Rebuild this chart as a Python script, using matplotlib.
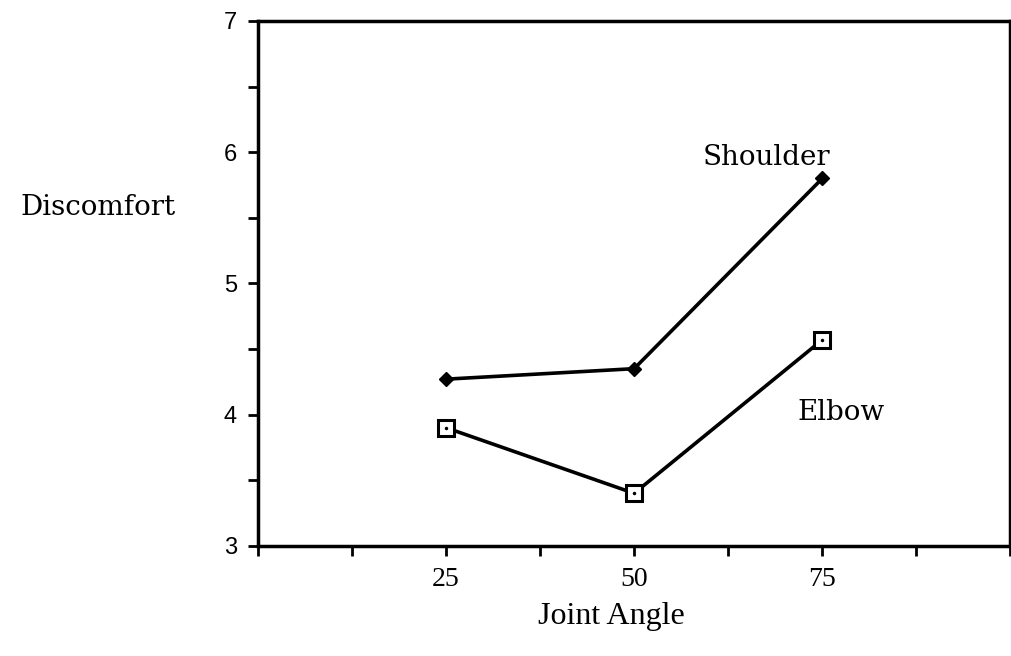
import matplotlib
matplotlib.use("Agg")
import matplotlib.pyplot as plt
from matplotlib.ticker import MultipleLocator

angles = [25, 50, 75]
shoulder = [4.27, 4.35, 5.80]
elbow = [3.90, 3.40, 4.57]

x_ticks = [25, 50, 75]
y_ticks = [3, 4, 5, 6, 7]

fig = plt.figure(figsize=(10.11, 6.56), dpi=100)
ax = fig.add_axes([0.255, 0.168, 0.7445, 0.800])

ax.plot(angles, shoulder, color="black", lw=2.6, marker="D", ms=7.5, mfc="black", mec="black",
        clip_on=False, zorder=3)
ax.plot(angles, elbow, color="black", lw=2.6, marker="s", ms=11, mfc="white", mec="black",
        mew=2.2, clip_on=False, zorder=3)
ax.plot(angles, elbow, ls="none", marker=".", ms=3, color="black", zorder=4)

ax.set_xlim(0, 100)
ax.set_ylim(3, 7)
ax.set_xticks(x_ticks)
ax.set_yticks(y_ticks)
ax.xaxis.set_minor_locator(MultipleLocator(12.5))
ax.yaxis.set_minor_locator(MultipleLocator(0.5))
ax.tick_params(which="both", direction="out", width=2, length=7, color="black")
ax.tick_params(axis="x", which="major", pad=8)
ax.tick_params(axis="y", which="major", pad=8)

for lab in ax.get_xticklabels():
    lab.set_fontfamily("Liberation Serif")
    lab.set_fontsize(20)
for lab in ax.get_yticklabels():
    lab.set_fontfamily("Liberation Sans")
    lab.set_fontsize(17)

for side in ["left", "bottom", "top", "right"]:
    ax.spines[side].set_linewidth(2.5)

ax.text(67.6, 5.90, "Shoulder", family="DejaVu Serif", fontsize=20, ha="center", va="baseline")
ax.text(77.5, 3.96, "Elbow", family="DejaVu Serif", fontsize=20, ha="center", va="baseline")

fig.text(0.097, 1 - 215 / 656, "Discomfort", family="DejaVu Serif", fontsize=20,
         ha="center", va="baseline")
fig.text(0.605, 0.06, "Joint Angle", family="Liberation Serif", fontsize=23, ha="center", va="center")

fig.savefig("out.png", dpi=100, facecolor="white")
